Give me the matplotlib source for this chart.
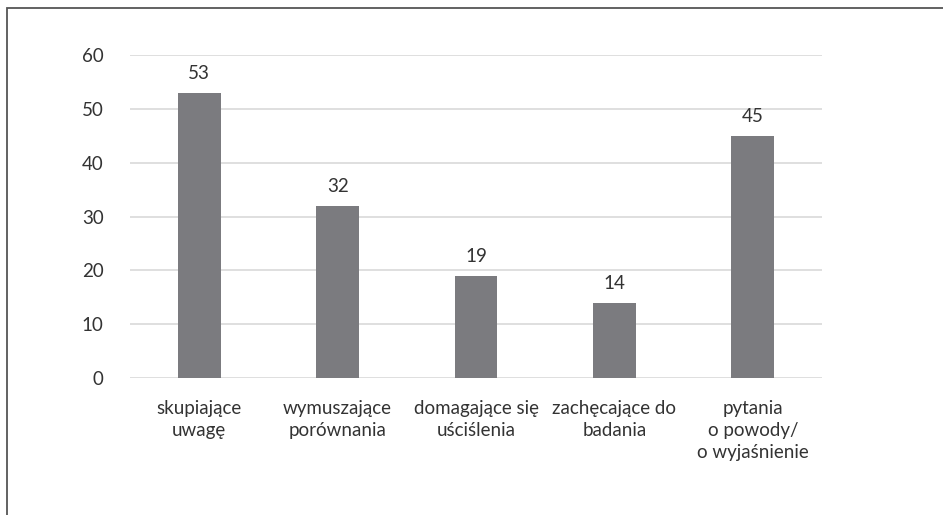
import matplotlib
matplotlib.use("Agg")
import matplotlib.pyplot as plt
from matplotlib.patches import Rectangle

categories = ["skupiające\nuwagę", "wymuszające\nporównania", "domagające się\nuściślenia",
              "zachęcające do\nbadania", "pytania\no powody/\no wyjaśnienie"]
values = [53, 32, 19, 14, 45]
yticks = [0, 10, 20, 30, 40, 50, 60]

plt.rcParams['font.family'] = ['Lato', 'DejaVu Sans']

fig = plt.figure(figsize=(9.43, 5.15), dpi=100)
ax = fig.add_axes([130/943, 137/515, 692/943, 323/515])

x = list(range(len(categories)))
ax.bar(x, values, width=0.31, color="#7b7b7f", zorder=3)
ax.set_xlim(-0.5, len(categories) - 0.5)
ax.set_ylim(0, 60)
ax.set_yticks(yticks)
ax.set_yticklabels([str(t) for t in yticks], fontsize=13.5, color="#333333")
ax.set_xticks(x)
ax.set_xticklabels(categories, fontsize=13.5, color="#333333", linespacing=1.35)
ax.tick_params(axis='y', length=0, pad=19)
ax.tick_params(axis='x', length=0, pad=16)
ax.grid(axis='y', color="#d9d9d9", linewidth=1.2, zorder=0)
for s in ax.spines.values():
    s.set_visible(False)

for xi, v in zip(x, values):
    ax.annotate(str(v), (xi, v), xytext=(0, 8), textcoords='offset points',
                ha='center', va='bottom', fontsize=13.5, color="#333333")

fig.patches.append(Rectangle((7/943, -0.1), 1.2, 0.1 + (1 - 8/515), transform=fig.transFigure,
                             fill=False, edgecolor="#555555", linewidth=1.3))

fig.savefig("out.png", dpi=100)
